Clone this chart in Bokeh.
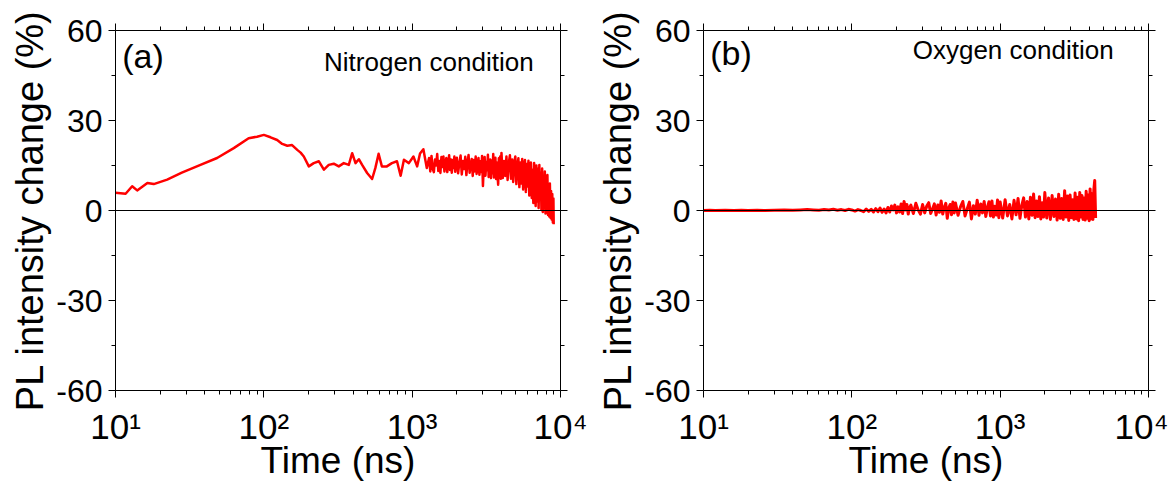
from bokeh.plotting import figure
from bokeh.layouts import row
from bokeh.models import (Range1d, LogAxis, LinearAxis, FixedTicker,
                          CustomJSTickFormatter, Span, Label, ColumnDataSource)
from bokeh.embed import file_html
from bokeh.resources import INLINE

FONT = "Liberation Sans"

# ---------------- axes ----------------
x_major = [10, 100, 1000, 10000]
x_minor = [20, 30, 40, 50, 60, 70, 80, 90,
           200, 300, 400, 500, 600, 700, 800, 900,
           2000, 3000, 4000, 5000, 6000, 7000, 8000, 9000]
x_tick_labels = ["10\u00b9", "10\u00b2", "10\u00b3", "10\u2074"]
y_major = [-60, -30, 0, 30, 60]
y_minor = [-45, -15, 15, 45]
y_tick_labels = ["-60", "-30", "0", "30", "60"]

x_title = "Time (ns)"
y_title = "PL intensity change (%)"

# ---------------- (a) Nitrogen condition ----------------
n2_time_early = [10, 11.7, 12.95, 14.0, 16.4, 18.1, 22.3, 28, 37.4, 48.4,
                 62.7, 79, 90, 100, 111, 123, 133, 144, 155, 168,
                 177, 186, 201, 217, 235, 254, 274, 296, 320, 346,
                 374, 394, 415, 437, 460, 497, 537, 565, 594, 625,
                 675, 730, 790, 836, 880, 950, 1020, 1080, 1130, 1190,
                 1255]
n2_pct_early = [5.9, 5.6, 8.1, 6.7, 9.2, 8.8, 10.3, 12.6, 15.2, 17.5,
                20.8, 24.1, 24.6, 25.2, 24.4, 23.5, 22.2, 21.6, 21.8, 20.2,
                19.3, 18.0, 14.7, 15.8, 16.4, 13.6, 15.2, 15.6, 14.7, 15.8,
                15.2, 19.1, 15.8, 17.1, 15.2, 12.5, 10.5, 14.2, 18.9, 14.7,
                14.7, 15.8, 16.4, 11.6, 16.9, 15.8, 18.0, 14.7, 19.0, 20.4,
                14.2]
n2_time_late = [1300, 1325, 1350, 1375, 1400, 1425, 1450, 1475, 1500, 1525,
                1550, 1575, 1600, 1625, 1650, 1675, 1700, 1725, 1750, 1775,
                1800, 1825, 1850, 1875, 1900, 1925, 1950, 1975,
                2000, 2040, 2080, 2120, 2160, 2200, 2240, 2280, 2320, 2360,
                2400, 2440, 2480, 2520, 2560, 2600, 2640, 2680, 2720, 2760,
                2800, 2840, 2880, 2920, 2960, 3000, 3040, 3080, 3120, 3160,
                3200, 3240, 3280, 3320, 3360, 3400, 3440, 3480, 3520, 3560,
                3600, 3640, 3680, 3720, 3760, 3800, 3840, 3880, 3920, 3960,
                4000, 4080, 4160, 4240, 4320, 4400, 4480, 4560, 4640, 4720,
                4800, 4880, 4960, 5040, 5120, 5200, 5280, 5360, 5440, 5520,
                5600, 5680, 5760, 5840, 5920, 6000, 6080, 6160, 6240, 6320,
                6400, 6480, 6560, 6640, 6720, 6800, 6880, 6960, 7040, 7120,
                7200, 7280, 7360, 7440, 7520, 7600, 7680, 7760, 7840, 7920,
                8000, 8080, 8160, 8240, 8320, 8400, 8480, 8560, 8640, 8720,
                8800, 8880, 8960, 9000]
n2_pct_late = [17.5, 13.0, 18.2, 14.0, 12.8, 17.0, 15.0, 18.8, 13.2, 16.5,
               12.5, 17.8, 14.5, 18.0, 13.0, 16.0, 17.5, 12.8, 15.5, 18.4,
               13.5, 17.0, 12.6, 16.8, 14.2, 18.0, 12.9, 16.2,
               17.6, 12.4, 15.8, 18.3, 12.0, 16.5, 13.8, 17.9, 11.8, 16.0,
               18.5, 12.6, 15.0, 17.2, 11.5, 16.8, 13.0, 18.0, 12.2, 15.6,
               17.5, 11.9, 16.4, 12.8, 18.2, 8.2, 15.0, 17.8, 11.6, 16.2,
               13.4, 18.6, 11.2, 15.8, 17.0, 10.8, 16.6, 12.4, 18.8, 11.0,
               15.2, 17.6, 10.5, 16.0, 12.0, 8.6, 17.4, 11.2, 18.0, 10.6,
               19.2, 10.8, 16.5, 11.5, 18.0, 10.2, 15.8, 18.4, 10.6, 17.0,
               9.5, 16.2, 18.0, 8.8, 15.0, 17.4, 7.8, 16.0, 9.0, 17.2,
               7.0, 14.5, 16.8, 6.2, 15.5, 8.0, 16.6, 5.0, 14.0, 16.0,
               4.2, 13.5, 2.5, 15.8, 6.0, 1.5, 15.0, 3.0, 13.8, 0.8,
               15.2, 4.0, 12.5, 0.2, 14.0, -0.5, 11.5, 2.0, 13.0, -1.0,
               10.5, -0.8, 11.8, -1.5, 8.5, -2.0, 9.0, -2.4, 6.5, -3.0,
               5.5, -4.0, 4.0, -4.6]

# ---------------- (b) Oxygen condition ----------------
o2_time_early = [10, 11, 12, 14, 16, 18, 20, 23, 26, 30,
                 35, 40, 45, 50, 55, 60, 65, 70, 75, 80,
                 85, 90, 95, 100, 105, 110, 115, 120, 125, 130,
                 135, 140, 145, 150, 155, 160, 165, 170, 175, 180,
                 185, 190, 195, 200, 205, 210, 215, 220, 225, 230,
                 235, 240, 245]
o2_pct_early = [0.0, 0.1, 0.0, 0.1, 0.0, 0.1, 0.0, 0.1, 0.0, 0.1,
                0.2, 0.1, 0.2, 0.3, 0.2, 0.1, 0.3, 0.2, 0.4, 0.1,
                0.3, 0.0, 0.4, 0.2, -0.2, 0.3, 0.0, -0.4, 0.5, -0.3,
                0.4, -0.5, 0.6, -0.4, 0.8, -0.6, 0.5, -0.8, 1.0, -0.5,
                1.5, 0.2, 1.8, -0.8, 1.2, -0.5, 2.2, -1.0, 3.0, 0.2,
                2.0, -1.2, 1.0]
o2_time_late = [250, 260, 270, 280, 290, 300, 310, 320, 330, 340,
                350, 360, 370, 380, 390, 400, 410, 420, 430, 440,
                450, 460, 470, 480, 490,
                500, 520, 540, 560, 580, 600, 620, 640, 660, 680,
                700, 720, 740, 760, 780, 800, 820, 840, 860, 880,
                900, 920, 940, 960, 980,
                1000, 1040, 1080, 1120, 1160, 1200, 1240, 1280, 1320, 1360,
                1400, 1440, 1480, 1520, 1560, 1600, 1640, 1680, 1720, 1760,
                1800, 1840, 1880, 1920, 1960,
                2000, 2060, 2120, 2180, 2240, 2300, 2360, 2420, 2480, 2540,
                2600, 2660, 2720, 2780, 2840, 2900, 2960, 3020, 3080, 3140,
                3200, 3260, 3320, 3380, 3440, 3500, 3560, 3620, 3680, 3740,
                3800, 3860, 3920, 3980, 4040, 4100, 4160, 4220, 4280, 4340,
                4400]
o2_pct_late = [1.8, -1.0, 2.4, 0.2, -1.2, 2.0, -0.8, 1.5, 2.6, -1.0,
               0.5, 2.2, -1.5, 1.8, -0.6, 3.2, -1.2, 1.0, 2.4, -2.6,
               0.8, 2.0, -1.4, 2.8, -0.8,
               2.5, -1.6, 1.2, 3.0, -1.8, 0.6, 2.8, -2.8, 1.6, -1.2,
               3.4, -1.6, 2.2, -0.8, 3.0, -2.0, 1.0, 2.9, -1.8, 3.2,
               -2.2, 1.4, -1.5, 3.5, -2.4,
               2.8, -2.5, 3.6, -1.8, 2.0, -2.8, 3.4, -1.4, 4.0, -2.6,
               1.8, 4.2, -2.2, 3.0, -2.8, 4.4, -1.6, 5.5, -2.4, 3.2,
               -2.0, 4.6, -2.8, 2.6, -2.2,
               6.0, -2.5, 4.2, -3.0, 5.0, -2.0, 3.8, -3.2, 5.4, -2.6,
               4.0, -3.0, 6.6, -2.2, 4.8, -3.3, 5.2, -2.4, 3.6, -3.0,
               5.8, -2.8, 4.4, -3.4, 6.0, -2.2, 5.0, -3.0, 4.2, -3.2,
               6.4, -2.6, 5.2, -3.4, 7.2, -2.8, 5.6, -3.0, 6.8, 10.0,
               -2.5]

panel_tags = ["(a)", "(b)"]
panel_conditions = ["Nitrogen condition", "Oxygen condition"]

PICK_JS = """
    let best = 0, bd = Infinity;
    for (let i = 0; i < tvals.length; i++) {
        const d = Math.abs(%s - %s);
        if (d < bd) { bd = d; best = i; }
    }
    return tlabels[best];
"""


def style_axis(ax, label_size):
    ax.axis_line_color = "black"
    ax.axis_line_width = 1
    ax.major_tick_line_color = "black"
    ax.minor_tick_line_color = "black"
    ax.major_tick_in = 0
    ax.major_tick_out = 7
    ax.minor_tick_in = 0
    ax.minor_tick_out = 4
    ax.major_label_text_font = FONT
    ax.major_label_text_font_size = label_size
    ax.major_label_text_color = "black"
    ax.axis_label_text_font = FONT
    ax.axis_label_text_font_style = "normal"
    ax.axis_label_text_color = "black"


def hide_labels(ax):
    ax.major_label_text_font_size = "1px"
    ax.major_label_text_color = None
    ax.major_label_standoff = 0


def make_panel(t, y, tag, tag_y, cond, cond_x, cond_y, width, b_left, b_right, lw):
    p = figure(width=width, height=483, x_axis_type="log",
               x_range=Range1d(10, 10000), y_range=Range1d(-60, 60),
               output_backend="svg", toolbar_location=None,
               min_border_left=b_left, min_border_right=b_right,
               min_border_top=30, min_border_bottom=91)
    p.outline_line_color = None
    p.xgrid.visible = False
    p.ygrid.visible = False
    p.background_fill_color = "white"
    p.border_fill_color = "white"

    xa = p.xaxis[0]
    xa.ticker = FixedTicker(ticks=x_major, minor_ticks=x_minor)
    xa.formatter = CustomJSTickFormatter(
        args=dict(tvals=x_major, tlabels=x_tick_labels),
        code=PICK_JS % ("Math.log10(tick)", "Math.log10(tvals[i])"))
    style_axis(xa, "35px")
    xa.major_label_standoff = 9
    xa.axis_label = x_title
    xa.axis_label_text_font_size = "37px"
    xa.axis_label_standoff = -9

    ya = p.yaxis[0]
    ya.ticker = FixedTicker(ticks=y_major, minor_ticks=y_minor)
    ya.formatter = CustomJSTickFormatter(
        args=dict(tvals=y_major, tlabels=y_tick_labels),
        code=PICK_JS % ("tick", "tvals[i]"))
    style_axis(ya, "32px")
    ya.major_label_standoff = 6
    ya.axis_label = y_title
    ya.axis_label_text_font_size = "38px"
    ya.axis_label_standoff = 2

    top = LogAxis(ticker=FixedTicker(ticks=x_major, minor_ticks=x_minor))
    style_axis(top, "35px")
    hide_labels(top)
    p.add_layout(top, "above")

    right = LinearAxis(ticker=FixedTicker(ticks=y_major, minor_ticks=y_minor))
    style_axis(right, "32px")
    hide_labels(right)
    p.add_layout(right, "right")

    src = ColumnDataSource(dict(t=t, y=y))
    p.line("t", "y", source=src, line_color="#ff0000", line_width=lw,
           line_join="round")

    p.add_layout(Span(location=0, dimension="width", line_color="black",
                      line_width=1))

    p.add_layout(Label(x=11.1, y=tag_y, text=tag, text_font=FONT,
                       text_font_size="34px", text_color="black",
                       text_align="left", text_baseline="top"))
    p.add_layout(Label(x=cond_x, y=cond_y, text=cond, text_font=FONT,
                       text_font_size="26px", text_color="black",
                       text_align="right", text_baseline="alphabetic"))
    return p


p1 = make_panel(n2_time_early + n2_time_late, n2_pct_early + n2_pct_late,
                panel_tags[0], 57.7, panel_conditions[0], 6590, 49.6,
                588, 115, 28, 2.5)
p2 = make_panel(o2_time_early + o2_time_late, o2_pct_early + o2_pct_late,
                panel_tags[1], 59, panel_conditions[1], 5820, 53.6,
                580, 115, 20, 3)

layout = row(p1, p2)
open("out.html", "w").write(file_html(layout, INLINE))
